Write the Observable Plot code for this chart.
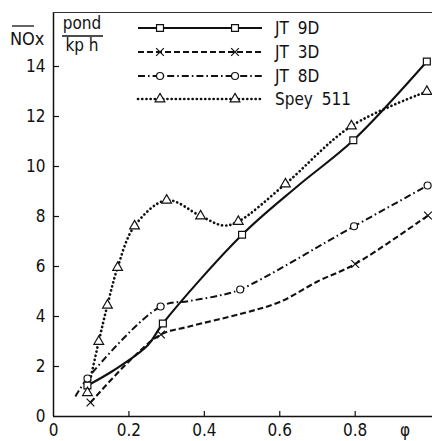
<!DOCTYPE html>
<html><head><meta charset="utf-8">
<script src="https://cdn.jsdelivr.net/npm/d3@7"></script>
<script src="https://cdn.jsdelivr.net/npm/@observablehq/plot@0.6"></script>
<style>
html,body{margin:0;padding:0;background:#fff;overflow:hidden}
#chart{position:relative;width:432px;height:441px}
svg text{font-family:"DejaVu Sans Condensed","DejaVu Sans",sans-serif}
</style></head><body><div id="chart"></div>
<script>
// ---- data ----
const xTicks = [0, 0.2, 0.4, 0.6, 0.8];
const yTicks = [0, 2, 4, 6, 8, 10, 12, 14];
const xMax = 1.005, yMax = 16.16;
const seriesNames = ["JT 9D", "JT 3D", "JT 8D", "Spey 511"];

const jt9dX = [0.09, 0.16, 0.25, 0.29, 0.5, 0.65, 0.795, 0.99];
const jt9dY = [1.24, 1.85, 2.85, 3.72, 7.27, 9.25, 11.05, 14.2];
const jt9dM = [1, 0, 0, 1, 1, 0, 1, 1];

const jt3dX = [0.098, 0.2, 0.285, 0.36, 0.5, 0.6, 0.7, 0.8, 0.993];
const jt3dY = [0.56, 2.2, 3.28, 3.6, 4.12, 4.58, 5.4, 6.1, 8.04];
const jt3dM = [1, 0, 1, 0, 0, 0, 0, 1, 1];

const jt8dX = [0.058, 0.09, 0.284, 0.36, 0.44, 0.495, 0.797, 0.992];
const jt8dY = [0.8, 1.52, 4.4, 4.62, 4.84, 5.08, 7.61, 9.24];
const jt8dM = [0, 1, 1, 0, 0, 1, 1, 1];

const speyX = [0.09, 0.12, 0.143, 0.17, 0.215, 0.3, 0.39, 0.45, 0.49, 0.615, 0.79, 0.99];
const speyY = [0.95, 3.0, 4.45, 5.96, 7.62, 8.65, 8.02, 7.64, 7.8, 9.3, 11.62, 13.0];
const speyM = [1, 1, 1, 1, 1, 1, 1, 0, 1, 1, 1, 1];

function rows(name, xs, ys, ms) {
  return xs.map((x, i) => ({series: name, x, y: ys[i], marked: ms[i] === 1}));
}
const data = {
  "JT 9D": rows("JT 9D", jt9dX, jt9dY, jt9dM),
  "JT 3D": rows("JT 3D", jt3dX, jt3dY, jt3dM),
  "JT 8D": rows("JT 8D", jt8dX, jt8dY, jt8dM),
  "Spey 511": rows("Spey 511", speyX, speyY, speyM)
};

// ---- styles ----
const styles = {
  "JT 9D":    {dash: null,          width: 2.1, cap: "butt",  symbol: "square",   r: 3.9},
  "JT 3D":    {dash: "6,3",         width: 2.1, cap: "butt",  symbol: "times",    r: 3.6},
  "JT 8D":    {dash: "7,3,1.6,3",   width: 2.0, cap: "butt",  symbol: "circle",   r: 3.5},
  "Spey 511": {dash: "0.1,4.1",     width: 2.7, cap: "round", symbol: "triangle", r: 3.6}
};
const d3Sym = {square: d3.symbolSquare, times: d3.symbolTimes, circle: d3.symbolCircle, triangle: d3.symbolTriangle};

const marks = [
  Plot.ruleY([0], {stroke: "#111", strokeWidth: 1.5}),
  Plot.ruleX([0], {stroke: "#111", strokeWidth: 1.5}),
  Plot.ruleY([yMax], {stroke: "#333", strokeWidth: 1}),
  Plot.tickX(xTicks.slice(1), {x: d => d, insetTop: 399, stroke: "#111", strokeWidth: 1.2}),
  Plot.tickY(yTicks.slice(1), {y: d => d, insetRight: 373, stroke: "#111", strokeWidth: 1.2}),
  Plot.axisX({ticks: xTicks, tickSize: 0, tickPadding: 7, tickFormat: d => String(d), label: null, fill: "#111"}),
  Plot.axisY({ticks: yTicks, tickSize: 0, tickPadding: 8, tickFormat: d => String(d), label: null, fill: "#111"})
];
for (const name of seriesNames) {
  const s = styles[name];
  marks.push(Plot.line(data[name], {
    x: "x", y: "y", curve: "catmull-rom", stroke: "#111",
    strokeWidth: s.width, strokeDasharray: s.dash, strokeLinecap: s.cap
  }));
}
for (const name of seriesNames) {
  const s = styles[name];
  marks.push(Plot.dot(data[name].filter(d => d.marked), {
    x: "x", y: "y", symbol: s.symbol, r: s.r, fill: s.symbol === "times" ? "none" : "white",
    stroke: "#111", strokeWidth: 1.2
  }));
}

const plot = Plot.plot({
  width: 432, height: 441,
  marginLeft: 53, marginRight: 0, marginTop: 12, marginBottom: 25,
  x: {domain: [0, xMax]},
  y: {domain: [0, yMax]},
  style: {fontSize: "17px", fontFamily: "'DejaVu Sans Condensed','DejaVu Sans',sans-serif", background: "white", overflow: "visible"},
  marks
});
document.getElementById("chart").appendChild(plot);

// ---- annotations: axis titles and legend ----
const svg = d3.select(plot);
const g = svg.append("g").attr("fill", "#111").attr("text-anchor", "start");
g.append("text").attr("x", 10).attr("y", 45).attr("font-size", 18).text("NOx");
g.append("line").attr("x1", 12).attr("x2", 34).attr("y1", 26).attr("y2", 26).attr("stroke", "#111").attr("stroke-width", 1.3);
g.append("text").attr("x", 82).attr("y", 29).attr("font-size", 17).attr("text-anchor", "middle").text("pond");
g.append("line").attr("x1", 62).attr("x2", 103).attr("y1", 36).attr("y2", 36).attr("stroke", "#111").attr("stroke-width", 1.4);
g.append("text").attr("x", 82).attr("y", 51).attr("font-size", 17).attr("text-anchor", "middle").text("kp h");
g.append("text").attr("x", 405).attr("y", 436).attr("font-size", 17).attr("text-anchor", "middle").text("φ");

const legendY = [28, 52, 76, 99];
seriesNames.forEach((name, i) => {
  const s = styles[name];
  const y = legendY[i];
  g.append("line").attr("x1", 138).attr("x2", 262).attr("y1", y).attr("y2", y)
    .attr("stroke", "#111").attr("stroke-width", s.width)
    .attr("stroke-dasharray", s.dash).attr("stroke-linecap", s.cap);
  [160, 235].forEach(x => {
    g.append("path").attr("transform", `translate(${x},${y})`)
      .attr("d", d3.symbol(d3Sym[s.symbol], Math.PI * s.r * s.r)())
      .attr("fill", s.symbol === "times" ? "none" : "white")
      .attr("stroke", "#111").attr("stroke-width", 1.2);
  });
  g.append("text").attr("x", 275).attr("y", y).attr("dy", "0.36em").attr("text-anchor", "start")
    .attr("font-size", 17).style("word-spacing", "4px").text(name);
});
</script>
</body></html>
